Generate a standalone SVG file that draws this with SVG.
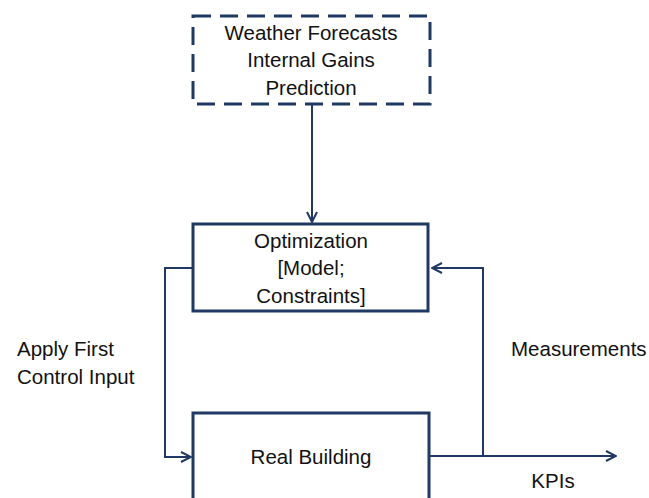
<svg xmlns="http://www.w3.org/2000/svg" width="649" height="498" viewBox="0 0 649 498">
<style>
.box{fill:#fff;stroke:#1F3864;stroke-width:3}
.dash{stroke-dasharray:18 9}
.con{fill:none;stroke:#1F3864;stroke-width:2}
text{font-family:"Liberation Sans",Arial,sans-serif;font-size:20.5px;fill:#111}
.c{text-anchor:middle}
</style>
<defs>
<marker id="arr" viewBox="0 0 12 12" refX="11" refY="6" markerWidth="12" markerHeight="12" markerUnits="userSpaceOnUse" orient="auto">
<polyline points="1,1 11,6 1,11" fill="none" stroke="#1F3864" stroke-width="2"/>
</marker>
</defs>
<g id="connectors">
<line class="con" x1="312" y1="104" x2="312" y2="222" marker-end="url(#arr)"/>
<polyline class="con" points="193,268 165,268 165,457 191,457" marker-end="url(#arr)"/>
<polyline class="con" points="429,456 616,456" marker-end="url(#arr)"/>
<polyline class="con" points="483,456 483,268 432,268" marker-end="url(#arr)"/>
</g>
<g id="forecasts">
<rect class="box dash" x="193" y="16" width="237" height="88"/>
<text class="c" x="311" y="40">Weather Forecasts</text>
<text class="c" x="311" y="67">Internal Gains</text>
<text class="c" x="311" y="95">Prediction</text>
</g>
<g id="optimization">
<rect class="box" x="193" y="224" width="235" height="87"/>
<text class="c" x="311" y="248">Optimization</text>
<text class="c" x="311" y="275">[Model;</text>
<text class="c" x="311" y="303">Constraints]</text>
</g>
<g id="building">
<rect class="box" x="193" y="413" width="236" height="100"/>
<text class="c" x="311" y="464">Real Building</text>
</g>
<g id="labels">
<text x="17" y="356">Apply First</text>
<text x="17" y="384">Control Input</text>
<text x="511" y="356">Measurements</text>
<text class="c" x="553" y="488">KPIs</text>
</g>
</svg>
